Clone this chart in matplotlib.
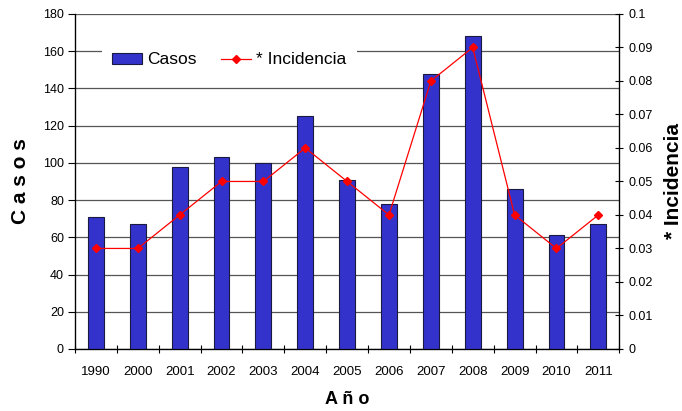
import matplotlib
matplotlib.use("Agg")
import matplotlib.pyplot as plt
import numpy as np

plt.rcParams['font.family'] = ['Liberation Sans', 'DejaVu Sans']

years = ['1990', '2000', '2001', '2002', '2003', '2004', '2005',
         '2006', '2007', '2008', '2009', '2010', '2011']
casos = [71, 67, 98, 103, 100, 125, 91, 78, 148, 168, 86, 61, 67]
incidencia = [0.03, 0.03, 0.04, 0.05, 0.05, 0.06, 0.05,
              0.04, 0.08, 0.09, 0.04, 0.03, 0.04]

x = np.arange(len(years))

fig = plt.figure(figsize=(6.82, 4.11), dpi=100)
ax = fig.add_axes([0.110, 0.151, 0.798, 0.815])

bars = ax.bar(x, casos, width=0.38, color='#3333CC', edgecolor='#1a1a40',
              linewidth=0.8, label='Casos', zorder=3)
ax.set_ylim(0, 180)
ax.set_xlim(-0.5, len(years) - 0.5)
ax.set_yticks(np.arange(0, 181, 20))
ax.yaxis.grid(True, color='#555555', linewidth=0.9, zorder=0)
ax.set_axisbelow(True)

# etiquetas centradas, marcas entre categorias
ax.set_xticks(x)
ax.set_xticklabels(years, fontsize=9.5)
ax.set_xticks(np.arange(-0.5, len(years), 1), minor=True)
ax.tick_params(axis='x', which='major', length=0, pad=12)
ax.tick_params(axis='x', which='minor', length=6, direction='inout', width=0.8)
ax.tick_params(axis='y', labelsize=9, length=5, width=0.8, pad=3)
ax.spines['top'].set_visible(False)
for s in ['left', 'bottom', 'right']:
    ax.spines[s].set_linewidth(0.9)

ax.set_ylabel('C a s o s', fontsize=15, fontweight='bold', labelpad=9)
ax.set_xlabel('A ñ o', fontsize=13, fontweight='bold', labelpad=10)

ax2 = ax.twinx()
line, = ax2.plot(x, incidencia, color='red', linewidth=0.9, marker='D',
                 markersize=4.5, label='* Incidencia', zorder=4)
ax2.set_ylim(0, 0.1)
ax2.set_yticks(np.arange(0, 0.101, 0.01))
ax2.set_yticklabels(['0', '0.01', '0.02', '0.03', '0.04', '0.05', '0.06',
                     '0.07', '0.08', '0.09', '0.1'])
ax2.tick_params(axis='y', labelsize=9, length=6, direction='inout', width=0.8,
                pad=4)
ax2.spines['top'].set_visible(False)
ax2.set_ylabel('* Incidencia', fontsize=15, fontweight='bold', rotation=90,
               labelpad=8)

leg = ax2.legend([bars, line], ['Casos', '* Incidencia'], loc='center left',
                 bbox_to_anchor=(0.0496, 0.863), ncol=2, frameon=True,
                 fontsize=12.5, handlelength=1.72, handleheight=0.6,
                 columnspacing=1.4, handletextpad=0.3, borderpad=0.6,
                 borderaxespad=0)
leg.get_frame().set_edgecolor('none')
leg.get_frame().set_facecolor('white')
leg.get_frame().set_alpha(1)

fig.savefig('out.png', dpi=100)
